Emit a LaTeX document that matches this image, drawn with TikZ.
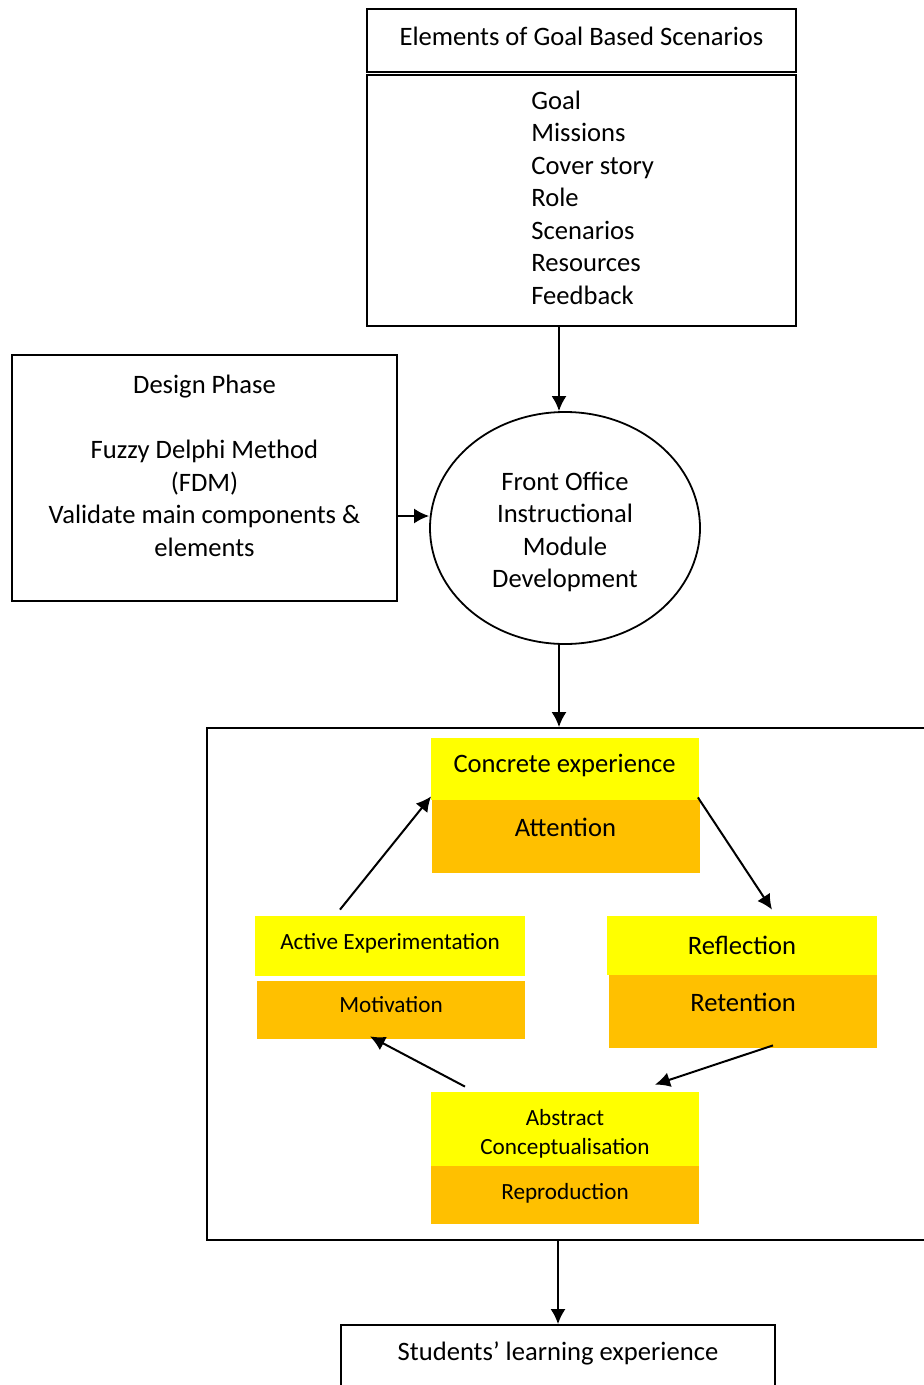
\documentclass[tikz,border=0pt]{standalone}
\usepackage{fontspec}
\setmainfont{Carlito}
\usetikzlibrary{arrows.meta,shapes.geometric}
\definecolor{stageyellow}{HTML}{FFFF00}
\definecolor{stageorange}{HTML}{FFC000}
\tikzset{
  txt/.style = {align=center, inner sep=0pt, font=\fontsize{13.3}{16.25}\selectfont},
  txtsmall/.style = {txt, font=\fontsize{11.6}{14.5}\selectfont},
  frame/.style = {rectangle, draw=black, line width=0.9pt, inner sep=0pt},% plain box
  stagetop/.style = {txt, rectangle, fill=stageyellow, minimum width=134pt},% yellow half
  stagebot/.style = {txt, rectangle, fill=stageorange, minimum width=134pt},% orange half
  flow/.style = {line width=1pt, -{Latex[length=7.5pt,width=7.5pt]}}
}

\begin{document}
\begin{tikzpicture}[x=0.5pt,y=-0.5pt]
  \clip (0,0) rectangle (924,1385);
  \fill[white] (0,0) rectangle (924,1385);
  \coordinate (spine) at (559,0);
  \coordinate (side) at (0,516);

  % elements of goal based scenarios
  \node[frame, minimum width=214.5pt, minimum height=31.5pt,
    label={[txt, yshift=2pt]center:Elements of Goal Based Scenarios}] (gbshead) at (581.5,40.5) {};
  \node[frame, minimum width=214.5pt, minimum height=125.5pt] (gbslist) at (581.5,200.5) {};
  \node[txt, align=left, anchor=west] (gbsitems) at (531,197.5)
    {Goal\\Missions\\Cover story\\Role\\Scenarios\\Resources\\Feedback};

  % design phase
  \node[frame, minimum width=192.5pt, minimum height=123pt] (design) at (204.5,478) {};
  \node[txt] (designtxt) at (204.5,466)
    {Design Phase\\[16.25pt]Fuzzy Delphi Method\\(FDM)\\Validate main components \&\\elements};

  % front office module
  \node[ellipse, draw=black, line width=0.9pt, minimum width=135pt, minimum height=116pt,
    label={[txt, yshift=-2pt]center:Front Office\\Instructional\\Module\\Development}]
    (front) at (565,528) {};

  % learning cycle
  \node[frame, minimum width=366.5pt, minimum height=256pt] (cycle) at (573.5,984) {};

  \node[stagetop, minimum height=31pt, label={[txt, yshift=2pt]center:Concrete experience}]
    (ceTop) at (564.5,769) {};
  \node[stagebot, minimum height=36.5pt, label={[txt, yshift=4.5pt]center:Attention}]
    (ceBot) at (565.5,836.5) {};

  \node[stagetop, minimum width=135pt, minimum height=30pt,
    label={[txtsmall, yshift=1.5pt]center:Active Experimentation}] (aeTop) at (390,946) {};
  \node[stagebot, minimum height=29pt, label={[txtsmall, yshift=2.5pt]center:Motivation}]
    (aeBot) at (391,1010) {};

  \node[stagetop, minimum width=135pt, minimum height=29.5pt] (rfTop) at (742,945.5) {Reflection};
  \node[stagebot, minimum height=36.5pt, label={[txt, yshift=4.5pt]center:Retention}]
    (rfBot) at (743,1011.5) {};

  \node[stagetop, minimum height=37pt,
    label={[txtsmall, yshift=-2.5pt]center:Abstract\\Conceptualisation}] (acTop) at (565,1129) {};
  \node[stagebot, minimum height=29pt, label={[txtsmall, yshift=1pt]center:Reproduction}]
    (acBot) at (565,1195) {};

  % students
  \node[frame, minimum width=217pt, minimum height=37.5pt] (learn) at (558,1362.5) {};
  \node[txt] (learntxt) at (558,1353) {Students’ learning experience};

  % connectors
  \draw[flow] (gbslist.south -| spine) -- (front.north -| spine);
  \draw[flow] (design.east |- side) -- (front.west |- side);
  \draw[flow] (front.south -| spine) -- (cycle.north -| spine);
  \draw[flow] ([shift={(-50,-6)}]aeTop.north) -- ([shift={(1,-4)}]ceTop.south west);
  \draw[flow] ([shift={(-1,-3)}]ceTop.south east) -- ([shift={(30,-6)}]rfTop.north);
  \draw[flow] ([shift={(30,-3)}]rfBot.south) -- ([shift={(90,-7)}]acTop.north);
  \draw[flow] ([shift={(-100,-5)}]acTop.north) -- ([shift={(-21,-3)}]aeBot.south);
  \draw[flow] (cycle.south -| learn.north) -- (learn.north);
\end{tikzpicture}
\end{document}
